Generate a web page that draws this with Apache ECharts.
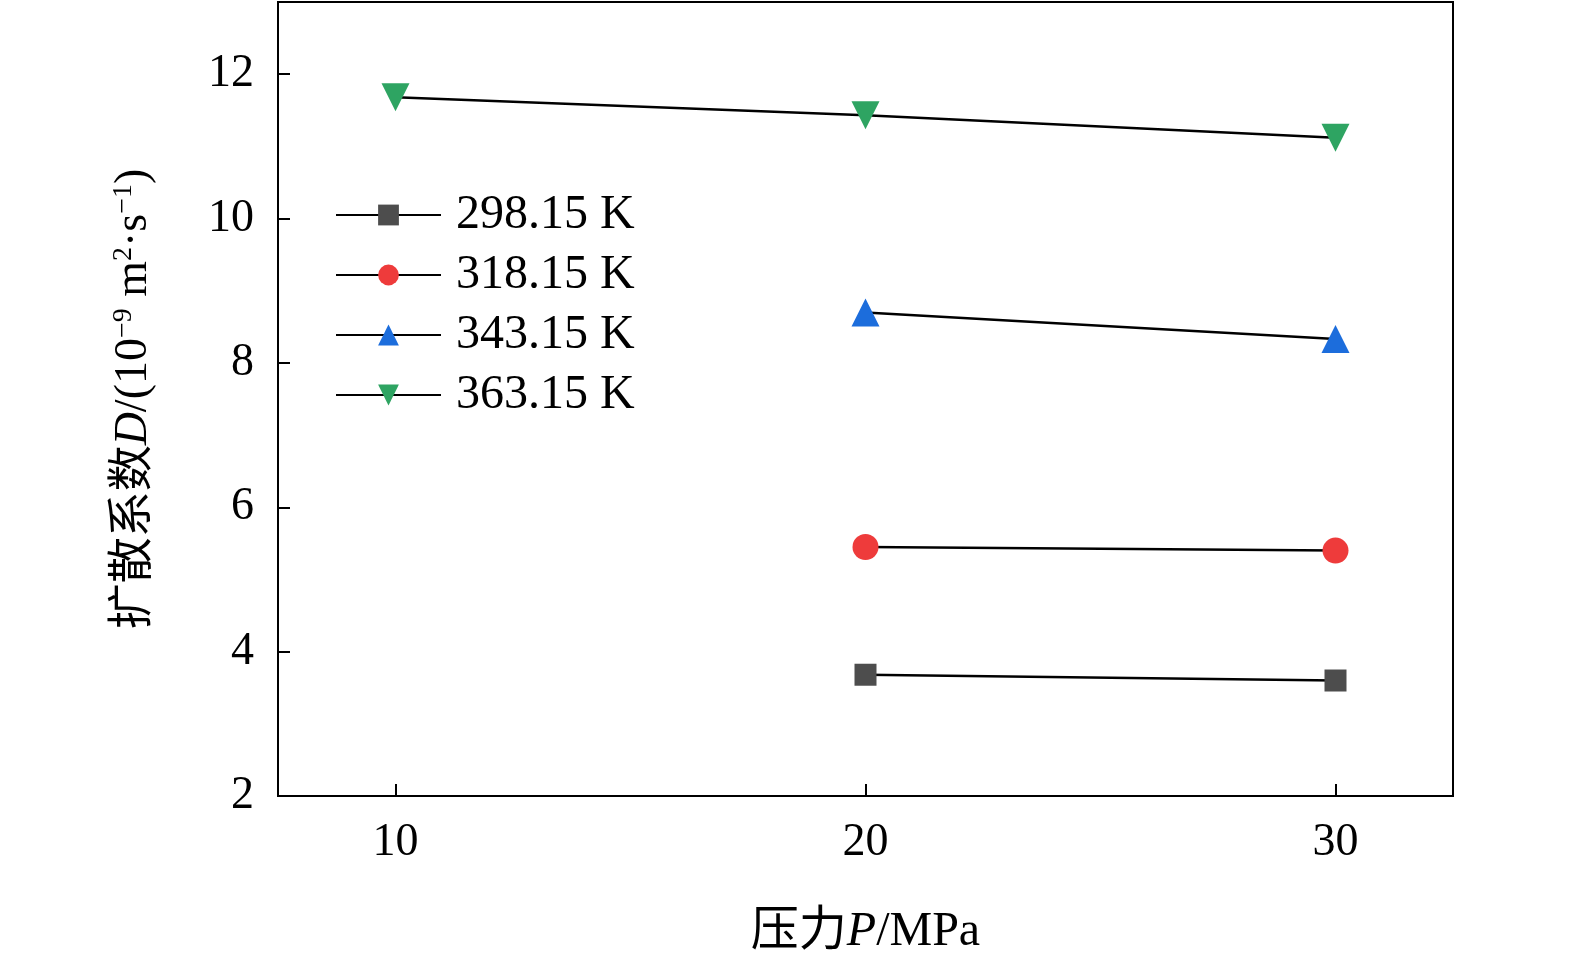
<!DOCTYPE html>
<html><head><meta charset="utf-8">
<script src="https://cdn.jsdelivr.net/npm/echarts@6/dist/echarts.min.js"></script>
<style>html,body{margin:0;background:#fff;overflow:hidden}#c{width:1575px;height:961px}</style>
</head><body><div id="c"></div>
<script>
// 压力 (MPa)
const pressures = [10, 20, 30];
const seriesNames = ['298.15 K', '318.15 K', '343.15 K', '363.15 K'];
const d298 = [null, 3.68, 3.60];
const d318 = [null, 5.45, 5.40];
const d343 = [null, 8.70, 8.33];
const d363 = [11.68, 11.43, 11.12];

const chart = echarts.init(document.getElementById('c'));
const font = 'Liberation Serif, Noto Sans CJK SC, serif';
const marks = [
  {data: d298, color: '#4d4d4d', symbol: 'rect', size: 22, rot: 0},
  {data: d318, color: '#ee3b3b', symbol: 'circle', size: 26, rot: 0},
  {data: d343, color: '#1c6ddc', symbol: 'triangle', size: 28, rot: 0},
  {data: d363, color: '#2ea462', symbol: 'triangle', size: 28, rot: 180}
];
chart.setOption({
  animation: false,
  grid: {left: 278, right: 122, top: 2, bottom: 159, show: true, borderColor: '#000', borderWidth: 2},
  legend: {
    left: 330, top: 186, orient: 'vertical', itemWidth: 105, itemHeight: 26, itemGap: 12,
    textStyle: {fontFamily: font, fontSize: 48, color: '#000', padding: [0, 0, 0, 10]},
    data: seriesNames
  },
  xAxis: {
    type: 'value', min: 7.5, max: 32.5,
    axisLine: {lineStyle: {color: '#000', width: 2}},
    axisTick: {inside: true, length: 12, lineStyle: {color: '#000', width: 2},
      customValues: pressures},
    axisLabel: {fontFamily: font, fontSize: 46, color: '#000', margin: 24,
      customValues: pressures},
    splitLine: {show: false},
    name: '{a|压力}{i|P}{a|/MPa}', nameLocation: 'middle', nameGap: 112,
    nameTextStyle: {rich: {a: {fontFamily: font, fontSize: 48, color: '#000'},
      i: {fontFamily: font, fontSize: 48, fontStyle: 'italic', color: '#000'}}}
  },
  yAxis: {
    type: 'value', min: 2, max: 13,
    axisLine: {lineStyle: {color: '#000', width: 2}},
    axisTick: {inside: true, length: 12, lineStyle: {color: '#000', width: 2},
      customValues: [2, 4, 6, 8, 10, 12]},
    axisLabel: {fontFamily: font, fontSize: 46, color: '#000', margin: 24,
      customValues: [2, 4, 6, 8, 10, 12]},
    splitLine: {show: false},
    name: '{a|扩散系数}{i|D}{a|/(10}{s|−9}{a| m}{s|2}{a|·s}{s|−1}{a|)}',
    nameLocation: 'middle', nameGap: 120, nameRotate: 90,
    nameTextStyle: {rich: {
      a: {fontFamily: font, fontSize: 46, color: '#000'},
      i: {fontFamily: font, fontSize: 46, fontStyle: 'italic', color: '#000'},
      s: {fontFamily: font, fontSize: 28, color: '#000', verticalAlign: 'top', padding: [0, 0, 20, 0]}
    }}
  },
  series: marks.map((m, i) => ({
    name: seriesNames[i], type: 'line',
    data: pressures.map((p, j) => [p, m.data[j]]),
    symbol: m.symbol, symbolSize: m.size, symbolRotate: m.rot, showAllSymbol: true,
    connectNulls: false,
    itemStyle: {color: m.color},
    lineStyle: {color: '#000', width: 2.5}
  }))
});
</script></body></html>
